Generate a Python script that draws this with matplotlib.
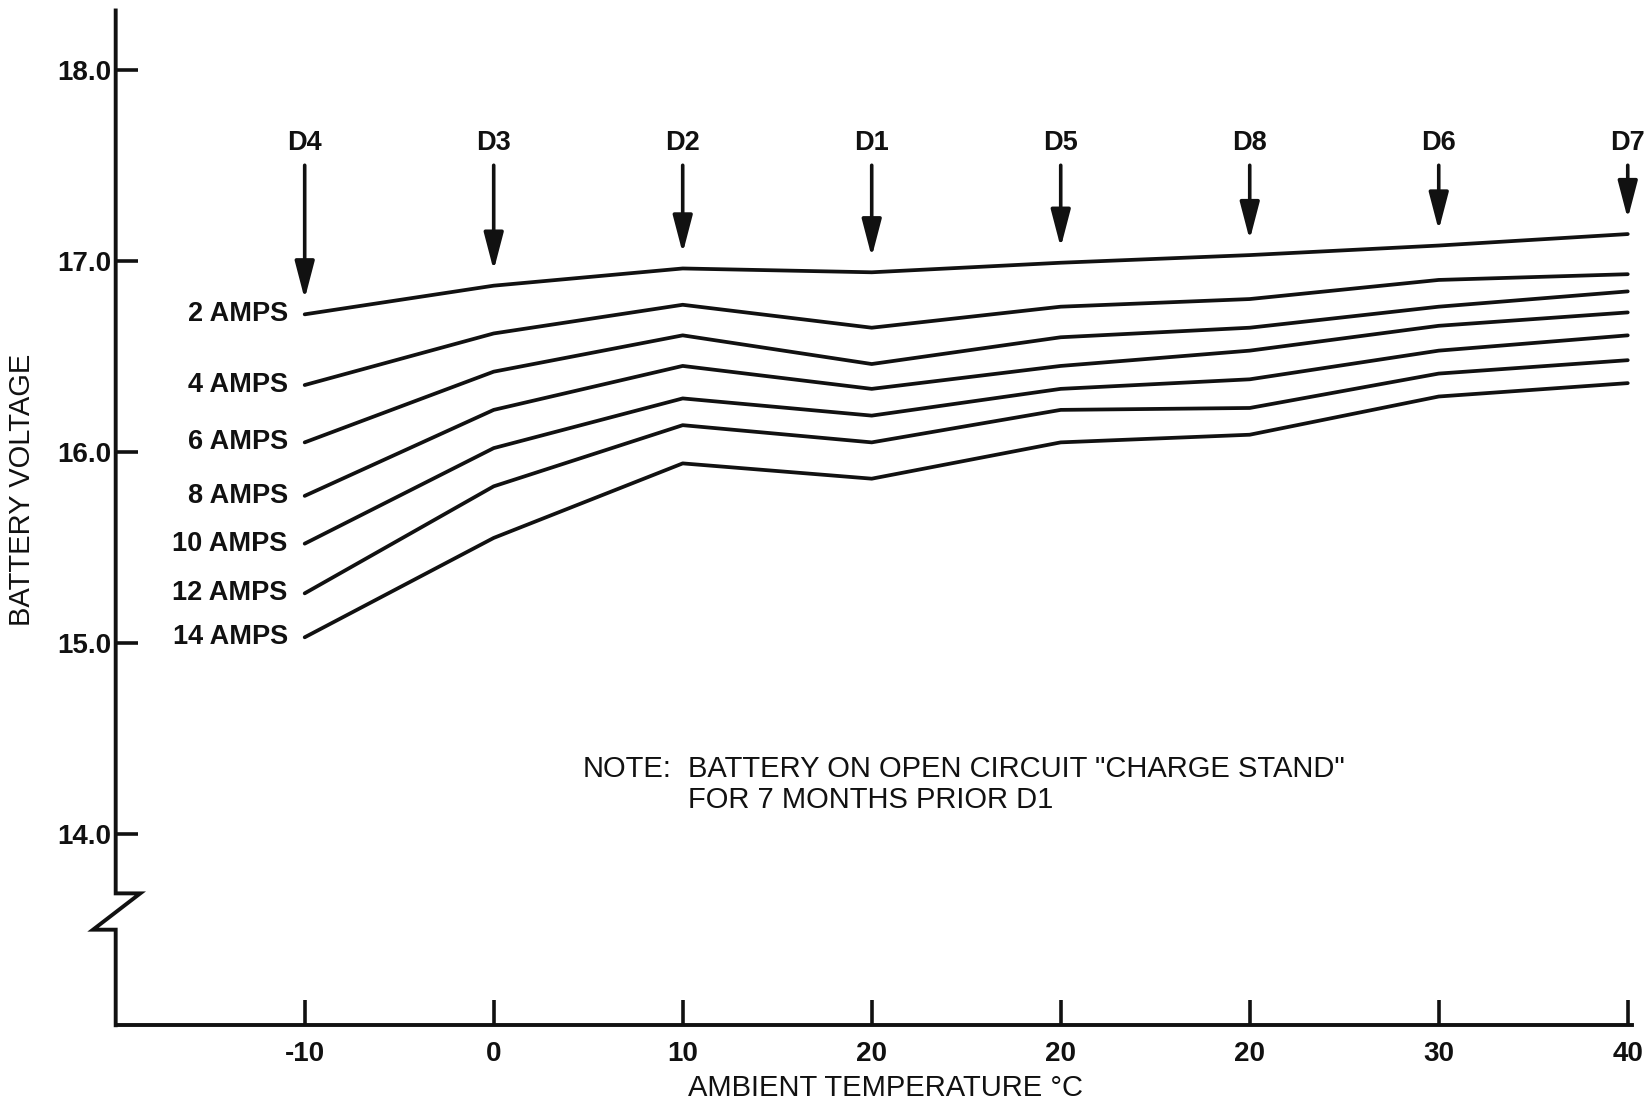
import matplotlib
matplotlib.use("Agg")
import matplotlib.pyplot as plt

plt.rcParams['font.family'] = ['Liberation Sans', 'DejaVu Sans']

# ambient temperature at each discharge (categorical positions)
temp_labels = ["-10", "0", "10", "20", "20", "20", "30", "40"]
discharge_names = ["D4", "D3", "D2", "D1", "D5", "D8", "D6", "D7"]

amp_labels = ["2 AMPS", "4 AMPS", "6 AMPS", "8 AMPS", "10 AMPS", "12 AMPS", "14 AMPS"]

v_2a = [16.72, 16.87, 16.96, 16.94, 16.99, 17.03, 17.08, 17.14]
v_4a = [16.35, 16.62, 16.77, 16.65, 16.76, 16.80, 16.90, 16.93]
v_6a = [16.05, 16.42, 16.61, 16.46, 16.60, 16.65, 16.76, 16.84]
v_8a = [15.77, 16.22, 16.45, 16.33, 16.45, 16.53, 16.66, 16.73]
v_10a = [15.52, 16.02, 16.28, 16.19, 16.33, 16.38, 16.53, 16.61]
v_12a = [15.26, 15.82, 16.14, 16.05, 16.22, 16.23, 16.41, 16.48]
v_14a = [15.03, 15.55, 15.94, 15.86, 16.05, 16.09, 16.29, 16.36]

series = [v_2a, v_4a, v_6a, v_8a, v_10a, v_12a, v_14a]

y_ticks = [14.0, 15.0, 16.0, 17.0, 18.0]

ink = "#111111"

fig = plt.figure(figsize=(16.48, 11.03), dpi=100)
ax = fig.add_axes([0.0702, 0.0705, 0.9198, 0.92])

x = list(range(len(temp_labels)))
y_bot, y_top = 13.0, 18.31
ax.set_xlim(-1.0, 7.02)
ax.set_ylim(y_bot, y_top)

for s, lab in zip(series, amp_labels):
	ax.plot(x, s, color=ink, lw=2.7, solid_capstyle='round', solid_joinstyle='round')
	ax.text(-0.09, s[0], lab, ha='right', va='center', fontsize=19.5, fontweight='bold', color=ink)

# discharge markers above the top curve
for i, name in enumerate(discharge_names):
	tip = v_2a[i] + 0.08
	ax.annotate("", xy=(i, tip), xytext=(i, 17.50),
		arrowprops=dict(arrowstyle="-|>,head_length=2.3,head_width=0.6", color=ink, lw=2.6, shrinkA=0, shrinkB=0))
	ax.text(i, 17.615, name, ha='center', va='center', fontsize=19.5, fontweight='bold', color=ink)

# axis with break drawn by hand
for sp in ["top", "right", "left"]:
	ax.spines[sp].set_visible(False)
ax.spines["bottom"].set_linewidth(2.8)
ax.spines["bottom"].set_color(ink)

bx = [-1.0, -1.0, -0.87, -1.12, -1.0, -1.0]
by = [y_top, 13.69, 13.69, 13.50, 13.50, y_bot]
ax.plot(bx, by, color=ink, lw=2.8, clip_on=False, solid_joinstyle='miter')

ax.set_xticks(x)
ax.set_xticklabels(temp_labels, fontsize=20, fontweight='bold', color=ink)
ax.set_yticks(y_ticks)
ax.set_yticklabels(["%.1f" % v for v in y_ticks], fontsize=20, fontweight='bold', color=ink)
ax.tick_params(axis='x', direction='in', length=18, width=2.6, pad=11, color=ink)
ax.tick_params(axis='y', direction='in', length=16, width=2.6, pad=3, color=ink)

ax.set_xlabel("AMBIENT TEMPERATURE °C", fontsize=21, color=ink, labelpad=6)
ax.xaxis.set_label_coords(0.508, -0.048)
ax.set_ylabel("BATTERY VOLTAGE", fontsize=21, color=ink)
ax.yaxis.set_label_coords(-0.0525, 0.528)

ax.text(1.47, 14.34, "NOTE:", fontsize=21, color=ink, va='center', ha='left')
ax.text(2.03, 14.34, 'BATTERY ON OPEN CIRCUIT "CHARGE STAND"', fontsize=21, color=ink, va='center', ha='left')
ax.text(2.03, 14.18, 'FOR 7 MONTHS PRIOR D1', fontsize=21, color=ink, va='center', ha='left')

fig.savefig("out.png", dpi=100)
